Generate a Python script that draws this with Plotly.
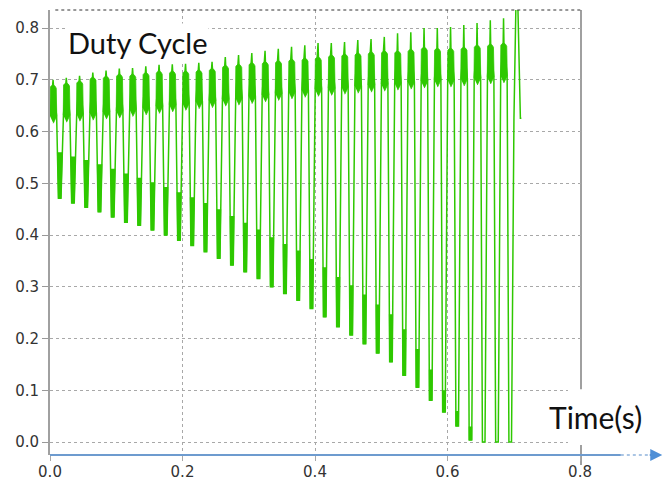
import plotly.graph_objects as go

# Switching period of the modulated duty cycle (s)
period = 0.02

# Per-cycle readings of the duty-cycle waveform (36 switching cycles)
peak_top = [0.690, 0.694, 0.698, 0.705, 0.707, 0.711, 0.711, 0.714, 0.717, 0.717,
            0.717, 0.719, 0.722, 0.728, 0.730, 0.733, 0.735, 0.737, 0.740, 0.742,
            0.744, 0.748, 0.750, 0.752, 0.754, 0.756, 0.756, 0.759, 0.763, 0.761,
            0.761, 0.763, 0.767, 0.769, 0.771, 0.900]
spike_top = [0.700, 0.704, 0.708, 0.714, 0.718, 0.722, 0.723, 0.726, 0.729, 0.730,
             0.731, 0.733, 0.735, 0.744, 0.748, 0.752, 0.756, 0.760, 0.764, 0.767,
             0.771, 0.771, 0.773, 0.777, 0.779, 0.783, 0.790, 0.792, 0.800, 0.800,
             0.802, 0.806, 0.810, 0.815, 0.819, 0.900]
plateau_low = [0.630, 0.632, 0.634, 0.636, 0.638, 0.640, 0.643, 0.646, 0.649, 0.652,
               0.655, 0.658, 0.660, 0.663, 0.665, 0.668, 0.671, 0.674, 0.677, 0.680,
               0.682, 0.684, 0.686, 0.688, 0.690, 0.692, 0.694, 0.696, 0.698, 0.700,
               0.700, 0.702, 0.704, 0.706, 0.708, 0.626]
trough_min = [0.471, 0.462, 0.454, 0.445, 0.435, 0.425, 0.419, 0.410, 0.400, 0.390,
              0.380, 0.368, 0.355, 0.342, 0.329, 0.316, 0.300, 0.287, 0.274, 0.258,
              0.242, 0.223, 0.207, 0.190, 0.172, 0.155, 0.129, 0.106, 0.081, 0.058,
              0.031, 0.004, 0.000, 0.000, 0.000]
trough_band_top = [0.560, 0.552, 0.545, 0.537, 0.528, 0.519, 0.511, 0.502, 0.493, 0.483,
                   0.473, 0.462, 0.450, 0.437, 0.424, 0.411, 0.396, 0.383, 0.370, 0.354,
                   0.338, 0.319, 0.303, 0.285, 0.266, 0.247, 0.218, 0.180, 0.140, 0.100,
                   0.060, 0.030, 0.000, 0.000, 0.000]
start_value = 0.640
end_time = 0.7115

x_ticks = [0.0, 0.2, 0.4, 0.6, 0.8]
y_ticks = [0.0, 0.1, 0.2, 0.3, 0.4, 0.5, 0.6, 0.7, 0.8]

GREEN = "#2ec800"
GRID = "#a8a8a8"

# time offsets inside one period for the waveform template
T_RISE, T_PEAK, T_FALL, T_TR0, T_TR1 = 0.0003, 0.0046, 0.0100, 0.0127, 0.0166
T_NEXT = period + T_RISE


def x_at(y, x0, y0, x1, y1):
    """x where the segment (x0,y0)-(x1,y1) reaches level y."""
    if y1 == y0:
        return x0
    return x0 + (y - y0) * (x1 - x0) / (y1 - y0)


# Waveform outline: rise, plateau with spike, fall into trough
lx, ly = [0.0], [start_value]
for k in range(len(peak_top)):
    tb = k * period
    lx += [tb + T_RISE, tb + T_PEAK - 0.0006, tb + T_PEAK, tb + T_PEAK + 0.0006, tb + T_FALL]
    ly += [plateau_low[k], peak_top[k], spike_top[k], peak_top[k], plateau_low[k]]
    if k < len(trough_min):
        lx += [tb + T_TR0, tb + T_TR1]
        ly += [trough_min[k], trough_min[k]]
lx.append(end_time)
ly.append(plateau_low[-1])

# Dense ripple regions drawn as filled bands
bx, by = [], []
for k in range(len(peak_top) - 1):
    tb = k * period
    p, lo = peak_top[k], plateau_low[k]
    bx += [tb + T_RISE - 0.0003, tb + T_RISE + 0.0002, tb + 0.0025, tb + T_PEAK,
           tb + 0.0075, tb + T_FALL - 0.0006, tb + T_FALL + 0.0002, tb + 0.0050, None]
    by += [lo, p - 0.004, p - 0.001, p, p - 0.002, p - 0.006, lo, lo - 0.014, None]
for k in range(len(trough_min)):
    top, tr = trough_band_top[k], trough_min[k]
    if top <= tr:
        continue
    tb = k * period
    xd = x_at(top, T_FALL, plateau_low[k], T_TR0, tr)
    xr = x_at(top, T_TR1, tr, T_NEXT, plateau_low[k + 1])
    # deeper cycles keep the ripple on the falling side only
    xr = min(xr, xd + 0.0075)
    bx += [tb + xd, tb + T_TR0, tb + T_TR1, tb + xr, None]
    by += [top, tr, tr, top, None]

fig = go.Figure()
fig.add_trace(go.Scatter(x=bx, y=by, mode="lines", fill="toself", fillcolor=GREEN,
                         line=dict(color=GREEN, width=0.8), hoverinfo="skip"))
fig.add_trace(go.Scatter(x=lx, y=ly, mode="lines",
                         line=dict(color=GREEN, width=1.5), hoverinfo="skip"))

fig.update_layout(
    width=672, height=481,
    margin=dict(l=50, r=91, t=10, b=26),
    paper_bgcolor="white", plot_bgcolor="white",
    showlegend=False,
    font=dict(family="DejaVu Sans", size=15, color="#333333"),
    xaxis=dict(range=[0, 0.8015], tickvals=x_ticks, tickformat=".1f",
               showgrid=True, gridcolor=GRID, griddash="dot", gridwidth=1,
               zeroline=False, showline=False, automargin=False,
               ticks="outside", ticklen=5, tickcolor=GRID,
               ticklabelstandoff=-2),
    yaxis=dict(range=[-0.025, 0.835], tickvals=y_ticks, tickformat=".1f",
               showgrid=True, gridcolor=GRID, griddash="dot", gridwidth=1,
               zeroline=False, showline=True, linecolor="#a0a0a0", linewidth=2,
               automargin=False,
               ticks="outside", ticklen=6, tickcolor="#999999"),
    shapes=[
        # top border
        dict(type="line", xref="paper", yref="paper", x0=0.01, x1=1.0, y0=1, y1=1,
             line=dict(color="#333333", width=1, dash="dot"), layer="above"),
        # right border at 0.8 s
        dict(type="line", xref="paper", yref="paper", x0=1.0, x1=1.0, y0=-0.0225, y1=1,
             line=dict(color="#a0a0a0", width=2), layer="below"),
        # label backdrop
        dict(type="rect", xref="paper", yref="paper", x0=0.9755, x1=1.24, y0=0.0225, y1=0.148,
             fillcolor="white", line=dict(width=0), layer="above"),
        # time axis with arrow
        dict(type="line", xref="paper", yref="paper", x0=0, x1=1.075, y0=0, y1=0,
             line=dict(color="#6d9bcf", width=2), layer="above"),
        dict(type="line", xref="paper", yref="paper", x0=1.075, x1=1.13, y0=0, y1=0,
             line=dict(color="#8fb3dc", width=1.5, dash="dot"), layer="above"),
    ],
    annotations=[
        dict(text="Duty Cycle", xref="paper", yref="paper", x=0.030, y=0.928,
             xanchor="left", yanchor="middle", showarrow=False, bgcolor="white",
             font=dict(family="Lato", size=29, color="#111111")),
        dict(text="Time(s)", xref="paper", yref="paper", x=1.027, y=0.085,
             xanchor="center", yanchor="middle", showarrow=False,
             font=dict(family="Lato", size=30, color="#111111")),
        dict(text="", xref="paper", yref="paper", x=1.153, y=0, ax=-14, ay=0,
             showarrow=True, arrowhead=2,
             arrowsize=1.2, arrowwidth=2, arrowcolor="#4f8fd6"),
    ],
)

fig.write_html("out.html")
